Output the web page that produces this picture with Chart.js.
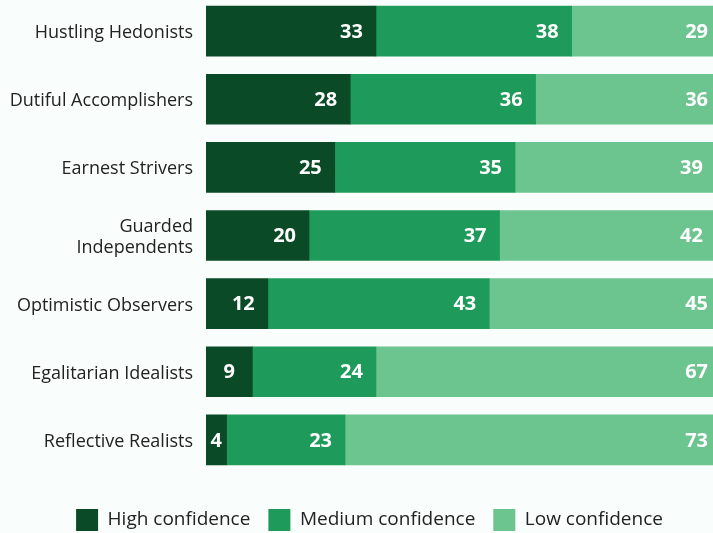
<!DOCTYPE html>
<html>
<head>
<meta charset="utf-8">
<script src="https://cdn.jsdelivr.net/npm/chart.js@4.4.1/dist/chart.umd.min.js"></script>
<style>
  html, body { margin: 0; padding: 0; background: #f9fdfc; overflow: hidden; }
  /* the original plot runs a little past the right edge and above the top */
  #wrap { width: 721px; height: 544px; position: absolute; left: 0; top: -3px; }
</style>
</head>
<body>
<div id="wrap"><canvas id="chart"></canvas></div>
<script>
const segments = [
  "Hustling Hedonists",
  "Dutiful Accomplishers",
  "Earnest Strivers",
  ["Guarded", "Independents"],
  "Optimistic Observers",
  "Egalitarian Idealists",
  "Reflective Realists"
];
const highConfidence = [33, 28, 25, 20, 12, 9, 4];
const mediumConfidence = [38, 36, 35, 37, 43, 24, 23];
const lowConfidence = [29, 36, 39, 42, 45, 67, 73];

const seriesNames = ["High confidence", "Medium confidence", "Low confidence"];
const seriesColors = ["#0a4a26", "#1e9b5a", "#6cc48e"];

const FONT = "'Open Sans', Lato, sans-serif";

// white value labels at the right end of each segment
const valueLabels = {
  id: "valueLabels",
  afterDatasetsDraw(chart) {
    const ctx = chart.ctx;
    ctx.save();
    ctx.fillStyle = "#ffffff";
    ctx.font = "bold 20px " + FONT;
    ctx.textAlign = "right";
    ctx.textBaseline = "middle";
    chart.data.datasets.forEach((ds, di) => {
      chart.getDatasetMeta(di).data.forEach((bar, i) => {
        const val = ds.data[i];
        const w = bar.x - bar.base;
        const tw = ctx.measureText(String(val)).width;
        const pad = w < 50 ? (w - tw) / 2 : 13;
        ctx.fillText(String(val), bar.x - pad, bar.y + 1);
      });
    });
    ctx.restore();
  }
};

// legend sits a bit right of centre in the original
const nudgeLegend = {
  id: "nudgeLegend",
  afterLayout(chart) {
    chart.legend.left += 9;
    chart.legend.right += 9;
  }
};

new Chart(document.getElementById("chart"), {
  type: "bar",
  data: {
    labels: segments,
    datasets: [
      { label: seriesNames[0], data: highConfidence, backgroundColor: seriesColors[0] },
      { label: seriesNames[1], data: mediumConfidence, backgroundColor: seriesColors[1] },
      { label: seriesNames[2], data: lowConfidence, backgroundColor: seriesColors[2] }
    ]
  },
  options: {
    indexAxis: "y",
    responsive: true,
    maintainAspectRatio: false,
    animation: false,
    layout: { padding: 0 },
    datasets: { bar: { barThickness: 50, borderWidth: 0 } },
    scales: {
      x: {
        stacked: true,
        min: 0,
        max: 100,
        grid: { display: false },
        border: { display: false },
        ticks: { display: false },
        afterFit(scale) { scale.height = 17; }
      },
      y: {
        stacked: true,
        grid: { display: false, drawTicks: false },
        border: { display: false },
        afterFit(scale) {
          scale.width = 206;
          scale.paddingTop = 0;
          scale.paddingBottom = 0;
        },
        ticks: {
          color: "#222222",
          padding: 13,
          labelOffset: 2,
          font: { family: FONT, size: 18 }
        }
      }
    },
    plugins: {
      legend: {
        position: "bottom",
        labels: {
          boxWidth: 22,
          boxHeight: 22,
          padding: 18,
          color: "#222222",
          font: { family: FONT, size: 19 }
        }
      },
      tooltip: { enabled: false }
    }
  },
  plugins: [valueLabels, nudgeLegend]
});
</script>
</body>
</html>
